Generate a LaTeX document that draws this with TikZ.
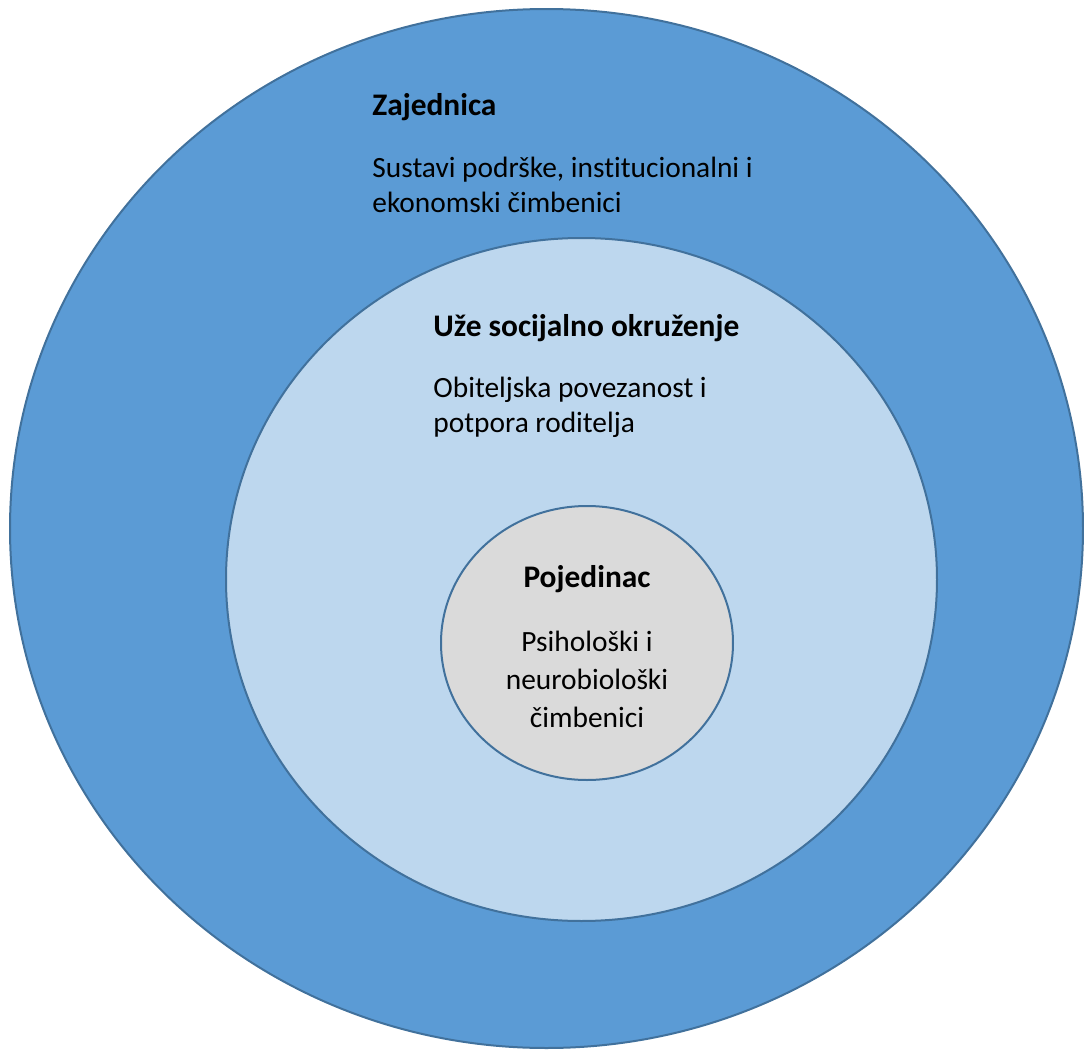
\documentclass[tikz,border=0pt]{standalone}
\usepackage{fontspec}
\setmainfont{Carlito}[Ligatures={NoCommon,NoRare,NoContextual}]
\usetikzlibrary{shapes.geometric}

\definecolor{zajednicaBlue}{HTML}{5B9BD5}
\definecolor{okruzenjeBlue}{HTML}{BDD7EE}
\definecolor{pojedinacGray}{HTML}{DADADA}
\definecolor{rubBlue}{HTML}{41719C}

\tikzset{
  krug/.style={ellipse, draw=rubBlue, line width=1pt, inner sep=0pt, outer sep=0pt},
  naslov/.style={inner sep=0pt, font=\fontsize{15.7}{19}\selectfont\bfseries},
  opis/.style={inner sep=0pt, align=left, font=\fontsize{14.7}{17.5}\selectfont}
}

\begin{document}
\begin{tikzpicture}[x=0.5pt,y=-0.5pt]
\useasboundingbox (0,0) rectangle (1084,1050);
% razine
\node [krug, fill=zajednicaBlue, minimum width=536.5pt, minimum height=519.5pt] (zajednica) at (546.5,528.5) {};
\node [krug, fill=okruzenjeBlue, minimum width=355.5pt, minimum height=341.5pt] (okruzenje) at (581.5,579.5) {};
\node [krug, fill=pojedinacGray, minimum width=146pt, minimum height=137pt] (pojedinac) at (587,643) {};
% tekst (base = zadnji redak)
\node [naslov, anchor=base west] (zajednicaNaslov) at (372,115) {Zajednica};
\node [opis, anchor=base west] (zajednicaOpis) at (372,212) {Sustavi podrške, institucionalni i\\ekonomski čimbenici};
\node [naslov, anchor=base west] (okruzenjeNaslov) at (433,336) {Uže socijalno okruženje};
\node [opis, anchor=base west] (okruzenjeOpis) at (433,432) {Obiteljska povezanost i\\potpora roditelja};
\node [naslov, anchor=base] (pojedinacNaslov) at (587,587) {Pojedinac};
\node [opis, align=center, anchor=base, font=\fontsize{14.7}{19}\selectfont] (pojedinacOpis) at (587,727) {Psihološki i\\neurobiološki\\čimbenici};
\end{tikzpicture}
\end{document}
